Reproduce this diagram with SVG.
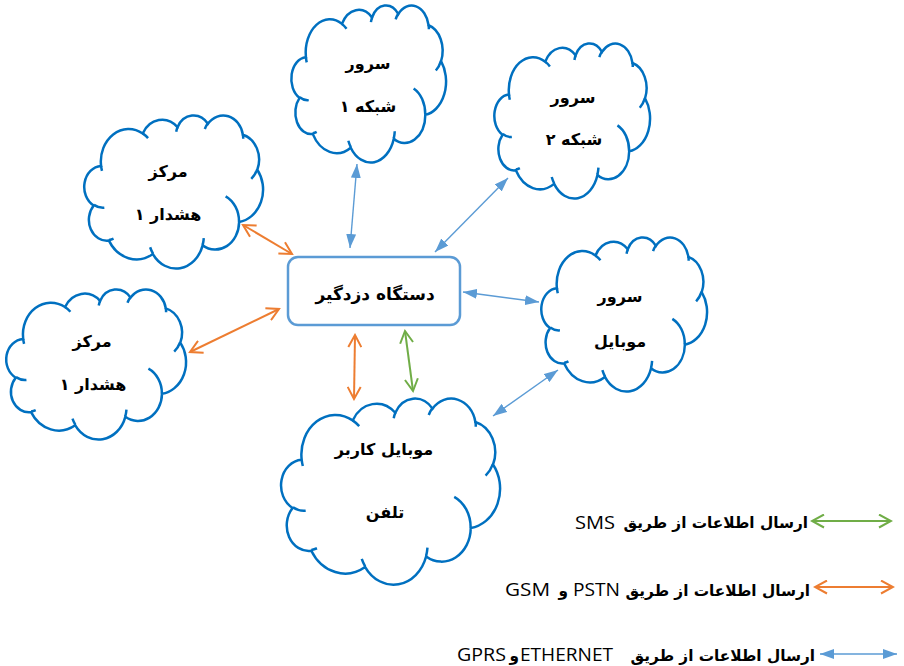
<svg xmlns="http://www.w3.org/2000/svg" xmlns:xlink="http://www.w3.org/1999/xlink" width="904" height="666" viewBox="0 0 904 666">
<style>
.cloud{fill:#fff;stroke:#0070C0;stroke-width:2.5;vector-effect:non-scaling-stroke}
.inner{fill:none;stroke:#0070C0;stroke-width:2.5;vector-effect:non-scaling-stroke}
.lbl{font-family:"DejaVu Sans",sans-serif;font-weight:bold;font-size:16px;fill:#000;text-anchor:middle}
.blue{stroke:#5B9BD5;stroke-width:1.4;fill:none;marker-start:url(#mb);marker-end:url(#mb)}
.orange{stroke:#ED7D31;stroke-width:2;fill:none;marker-start:url(#mo);marker-end:url(#mo)}
.green{stroke:#70AD47;stroke-width:2;fill:none;marker-start:url(#mg);marker-end:url(#mg)}
.leg{font-family:"DejaVu Sans",sans-serif;font-weight:bold;font-size:15.3px;fill:#000;text-anchor:end}
.lat{font-family:"Open Sans","Liberation Sans",sans-serif;font-weight:normal;font-size:18px;fill:#000}
</style>
<defs>
<path id="cloudOuter" class="cloud" d="M9.03,33.26 A15.63,21.27 0 0 1 32.42,12.04 A12.34,16.82 0 0 1 51.98,7.94 A10.10,13.76 0 0 1 69.06,5.74 A11.24,15.27 0 0 1 88.70,12.90 A12.34,16.84 0 0 1 96.80,35.78 A15.68,21.34 0 0 1 86.58,69.90 A13.39,18.21 0 0 1 66.10,85.21 A15.63,21.33 0 0 1 38.15,90.88 A17.87,24.41 0 0 1 13.44,82.10 A10.09,13.70 0 0 1 4.89,59.14 A10.06,13.76 0 0 1 9.03,33.26 Z"/>
<path id="cloudInner" class="inner" d="M10.86,60.59 A10.06,13.76 0 0 1 5.00,58.75 M16.04,80.78 A10.09,13.70 0 0 1 13.47,81.67 M38.14,90.49 A15.63,21.33 0 0 1 36.59,86.45 M66.73,80.44 A15.63,21.33 0 0 1 66.11,84.86 M79.00,53.13 A13.39,18.21 0 0 1 86.53,69.65 M96.75,35.54 A12.34,16.84 0 0 1 93.40,41.74 M88.71,12.56 A11.24,15.27 0 0 1 88.89,15.48 M67.31,9.15 A11.24,15.27 0 0 1 69.03,5.41 M51.25,10.93 A10.10,13.76 0 0 1 52.08,7.71 M32.41,12.02 A15.63,21.27 0 0 1 35.42,15.15 M9.55,36.55 A15.63,21.27 0 0 1 9.03,33.26"/>
<marker id="mb" viewBox="0 0 14 10" refX="14" refY="5" markerWidth="14" markerHeight="10" markerUnits="userSpaceOnUse" orient="auto-start-reverse">
<path d="M0,0 L14,5 L0,10 Z" fill="#5B9BD5"/>
</marker>
<marker id="mo" viewBox="-1 -1 15 15" refX="12" refY="6.5" markerWidth="15" markerHeight="15" markerUnits="userSpaceOnUse" orient="auto-start-reverse">
<path d="M0,0 L12,6.5 L0,13" fill="none" stroke="#ED7D31" stroke-width="2"/>
</marker>
<marker id="mg" viewBox="-1 -1 15 15" refX="12" refY="6.5" markerWidth="15" markerHeight="15" markerUnits="userSpaceOnUse" orient="auto-start-reverse">
<path d="M0,0 L12,6.5 L0,13" fill="none" stroke="#70AD47" stroke-width="2"/>
</marker>
</defs>

<g id="server1">
<g transform="translate(292,5) scale(1.54,1.57)"><use xlink:href="#cloudOuter"/><use xlink:href="#cloudInner"/></g>
<text class="lbl" x="368" y="69" direction="rtl">سرور</text>
<text class="lbl" x="368" y="112" direction="rtl">شبکه ۱</text>
</g>

<g id="server2">
<g transform="translate(495,43) scale(1.55,1.55)"><use xlink:href="#cloudOuter"/><use xlink:href="#cloudInner"/></g>
<text class="lbl" x="573" y="103" direction="rtl">سرور</text>
<text class="lbl" x="574" y="145" direction="rtl">شبکه ۲</text>
</g>

<g id="alarm1">
<g transform="translate(85,115) scale(1.78,1.53)"><use xlink:href="#cloudOuter"/><use xlink:href="#cloudInner"/></g>
<text class="lbl" x="168" y="177" direction="rtl">مرکز</text>
<text class="lbl" x="168" y="220" direction="rtl">هشدار ۱</text>
</g>

<g id="alarm2">
<g transform="translate(7,289) scale(1.79,1.50)"><use xlink:href="#cloudOuter"/><use xlink:href="#cloudInner"/></g>
<text class="lbl" x="92" y="347" direction="rtl">مرکز</text>
<text class="lbl" x="93" y="390" direction="rtl">هشدار ۱</text>
</g>

<g id="userMobile">
<g transform="translate(282,398) scale(2.18,1.86)"><use xlink:href="#cloudOuter"/><use xlink:href="#cloudInner"/></g>
<text class="lbl" x="384" y="455" direction="rtl">موبایل کاربر</text>
<text class="lbl" x="385" y="518" direction="rtl">تلفن</text>
</g>

<g id="mobileServer">
<g transform="translate(542,237) scale(1.65,1.54)"><use xlink:href="#cloudOuter"/><use xlink:href="#cloudInner"/></g>
<text class="lbl" x="620" y="302" direction="rtl">سرور</text>
<text class="lbl" x="620" y="347" direction="rtl">موبایل</text>
</g>

<g id="device">
<rect x="288" y="257" width="172" height="68" rx="10" ry="10" fill="#fff" stroke="#5B9BD5" stroke-width="2.5"/>
<text class="lbl" x="375" y="300" direction="rtl" style="font-size:17px">دستگاه دزدگیر</text>
</g>

<g id="connectors">
<line class="blue" x1="357" y1="164" x2="350" y2="248"/>
<line class="blue" x1="508" y1="178" x2="435" y2="252"/>
<line class="blue" x1="463" y1="292" x2="539" y2="302"/>
<line class="blue" x1="558" y1="370" x2="493" y2="416"/>
<line class="orange" x1="243" y1="225" x2="292" y2="254"/>
<line class="orange" x1="190" y1="352" x2="279" y2="309"/>
<line class="orange" x1="355" y1="335" x2="354" y2="399"/>
<line class="green" x1="405" y1="331" x2="413" y2="391"/>
</g>

<g id="legend">
<line class="green" x1="812" y1="521" x2="891" y2="521"/>
<text class="leg" x="808" y="528">ارسال اطلاعات از طریق</text>
<text class="lat" x="575" y="529" textLength="40" lengthAdjust="spacingAndGlyphs">SMS</text>
<line class="orange" x1="815" y1="587" x2="893" y2="587"/>
<text class="leg" x="810" y="596">ارسال اطلاعات از طریق</text>
<text class="lat" x="573" y="596" textLength="47" lengthAdjust="spacingAndGlyphs">PSTN</text>
<text class="leg" x="568" y="596">و</text>
<text class="lat" x="505" y="596" textLength="45" lengthAdjust="spacingAndGlyphs">GSM</text>
<line class="blue" x1="820" y1="654" x2="897" y2="654"/>
<text class="leg" x="815" y="661">ارسال اطلاعات از طریق</text>
<text class="lat" x="520" y="661" textLength="93" lengthAdjust="spacingAndGlyphs">ETHERNET</text>
<text class="leg" x="519" y="661">و</text>
<text class="lat" x="457" y="661" textLength="49" lengthAdjust="spacingAndGlyphs">GPRS</text>
</g>
</svg>
